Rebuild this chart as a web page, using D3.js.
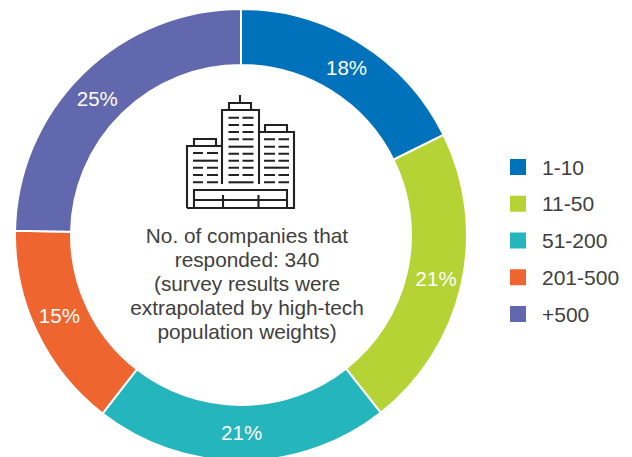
<!DOCTYPE html>
<html>
<head>
<meta charset="utf-8">
<script src="https://cdn.jsdelivr.net/npm/d3@7"></script>
<style>
  html, body { margin: 0; padding: 0; background: #fff; }
  svg { display: block; }
  text { font-family: "Liberation Sans", sans-serif; fill: #404040; }
</style>
</head>
<body>
<div id="chart"></div>
<script>
const categories = ["1-10", "11-50", "51-200", "201-500", "+500"];
// slice sizes as measured off the ring, printed labels kept apart
const shares = [17.7, 21.7, 21.1, 14.8, 24.7];
const labels = ["18%", "21%", "21%", "15%", "25%"];
const colors = ["#0072bc", "#b5d334", "#25b6bd", "#ef6530", "#6268ae"];
const centerLines = [
  "No. of companies that",
  "responded: 340",
  "(survey results were",
  "extrapolated by high-tech",
  "population weights)"
];

const width = 632, height = 457;
const cx = 241, cy = 235, outer = 226, inner = 170;

const svg = d3.select("#chart").append("svg")
  .attr("width", width)
  .attr("height", height);

// donut
const pie = d3.pie().sort(null).value(function(d) { return d; });
const arc = d3.arc().innerRadius(inner).outerRadius(outer);
const ring = svg.append("g").attr("transform", "translate(" + cx + "," + cy + ")");

ring.selectAll("path")
  .data(pie(shares))
  .enter().append("path")
  .attr("d", arc)
  .attr("fill", function(d, i) { return colors[i]; })
  .attr("stroke", "#fff")
  .attr("stroke-width", 2);

// labels sit a little off the centroid in the original
const nudge = [[1, 1], [2, 0], [0, 0], [-3, -5], [-5, 5]];

ring.selectAll("text")
  .data(pie(shares))
  .enter().append("text")
  .attr("transform", function(d, i) {
    const c = arc.centroid(d);
    return "translate(" + (c[0] + nudge[i][0]) + "," + (c[1] + nudge[i][1]) + ")";
  })
  .attr("text-anchor", "middle")
  .attr("dy", "0.36em")
  .style("font-size", "20.5px")
  .style("fill", "#fff")
  .text(function(d, i) { return labels[i]; });

// center note
svg.append("g").selectAll("text")
  .data(centerLines)
  .enter().append("text")
  .attr("x", 247)
  .attr("y", function(d, i) { return 243 + i * 24; })
  .attr("text-anchor", "middle")
  .style("font-size", "20.8px")
  .text(function(d) { return d; });

// legend
const legendY = d3.scalePoint().domain(categories).range([167, 314]);
const legend = svg.append("g").selectAll("g")
  .data(categories)
  .enter().append("g")
  .attr("transform", function(d) { return "translate(510," + legendY(d) + ")"; });

legend.append("rect")
  .attr("y", -8)
  .attr("width", 16)
  .attr("height", 16)
  .attr("fill", function(d, i) { return colors[i]; });

legend.append("text")
  .attr("x", 32)
  .attr("dy", "0.36em")
  .style("font-size", "21px")
  .text(function(d) { return d; });

// building icon
const icon = svg.append("g")
  .attr("fill", "none")
  .attr("stroke", "#222")
  .attr("stroke-width", 2.1);

icon.append("path").attr("d",
  "M187,208V146H222 M222,184V110H259V184 M259,132H294V208H187" +
  "M194,146V139H216V146 M229,110V103H251V110 M240,103V95" +
  "M265,132V125H287V132 M194,208V190H287V208 M194,200H287" +
  "M223,195V208 M258.5,195V208");

// window rows, full lists the ones drawn as one long bar
function windows(rows, x1, x2, x3, x4, full) {
  rows.forEach(function(y) {
    const d = full.indexOf(y) >= 0
      ? "M" + x1 + "," + y + "H" + x4
      : "M" + x1 + "," + y + "H" + x2 + "M" + x3 + "," + y + "H" + x4;
    icon.append("path").attr("d", d);
  });
}
windows([153, 160.7, 167.7, 175, 182.3], 193, 203, 207, 218, [160.7]);
windows([117.7, 125, 132, 139.3, 146.7, 153.7, 160.7, 167.7, 175, 182.3], 228.5, 239, 242.5, 253.5, [146.7, 182.3]);
windows([139.3, 146.7, 153.7, 160.7, 167.7, 175, 182.3], 264, 275, 278.5, 289, [167.7]);
</script>
</body>
</html>
